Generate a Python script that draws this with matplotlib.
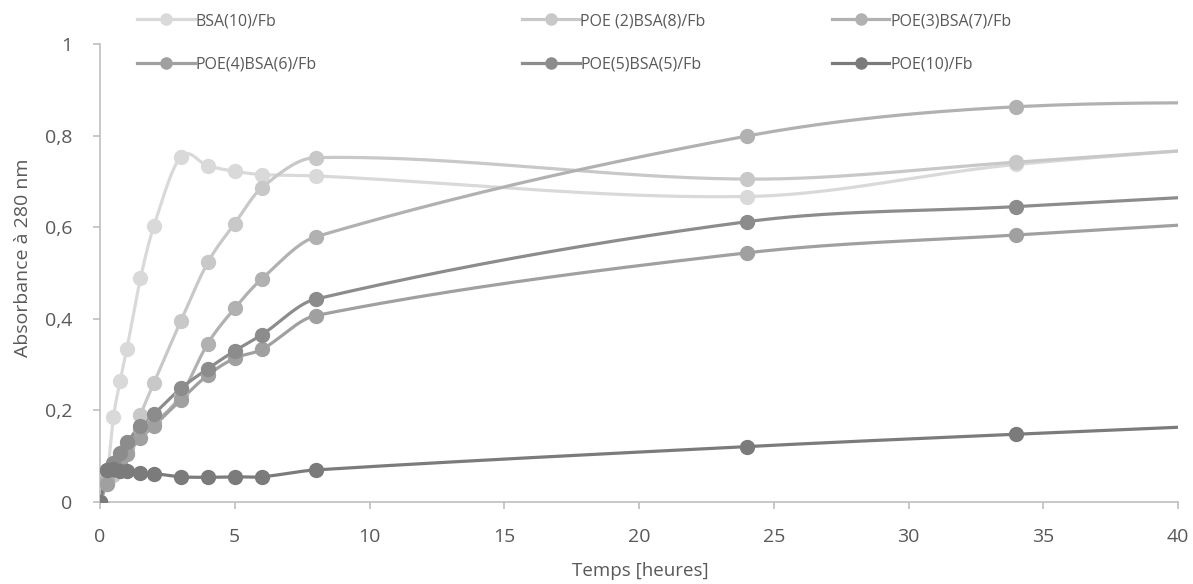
import numpy as np
import matplotlib
matplotlib.use("Agg")
import matplotlib.pyplot as plt
from matplotlib.lines import Line2D
from matplotlib import font_manager

# ---- data ----
hours = [0, 0.25, 0.5, 0.75, 1, 1.5, 2, 3, 4, 5, 6, 8, 24, 34, 48]
labels = ["BSA(10)/Fb", "POE (2)BSA(8)/Fb", "POE(3)BSA(7)/Fb",
          "POE(4)BSA(6)/Fb", "POE(5)BSA(5)/Fb", "POE(10)/Fb"]
bsa10 = [0, 0.05, 0.185, 0.265, 0.335, 0.488, 0.603, 0.754, 0.734, 0.722, 0.715, 0.712, 0.667, 0.737, 0.80]
poe2 = [0, 0.04, 0.06, 0.085, 0.11, 0.19, 0.26, 0.395, 0.523, 0.608, 0.686, 0.752, 0.705, 0.742, 0.80]
poe3 = [0, 0.05, 0.08, 0.10, 0.12, 0.16, 0.172, 0.233, 0.346, 0.423, 0.487, 0.579, 0.799, 0.863, 0.872]
poe4 = [0, 0.04, 0.07, 0.09, 0.105, 0.139, 0.166, 0.223, 0.277, 0.314, 0.333, 0.407, 0.544, 0.583, 0.632]
poe5 = [0, 0.07, 0.085, 0.106, 0.13, 0.166, 0.192, 0.248, 0.291, 0.33, 0.365, 0.443, 0.612, 0.645, 0.69]
poe10 = [0, 0.07, 0.072, 0.068, 0.068, 0.063, 0.062, 0.055, 0.054, 0.055, 0.055, 0.07, 0.121, 0.148, 0.183]
series = [bsa10, poe2, poe3, poe4, poe5, poe10]
colors = ["#D9D9D9", "#C8C8C8", "#B1B1B1", "#A0A0A0", "#8C8C8C", "#7B7B7B"]
y_ticks = [0, 0.2, 0.4, 0.6, 0.8, 1]
x_ticks = [0, 5, 10, 15, 20, 25, 30, 35, 40]


def smooth(x, y, n=40):
    """Smoothed line through the points (cubic Hermite, Catmull-Rom tangents)."""
    x = np.asarray(x, float)
    y = np.asarray(y, float)
    m = len(x)
    slopes = np.zeros(m)
    for i in range(m):
        if i == 0:
            slopes[i] = (y[1] - y[0]) / (x[1] - x[0])
        elif i == m - 1:
            slopes[i] = (y[-1] - y[-2]) / (x[-1] - x[-2])
        else:
            slopes[i] = (y[i + 1] - y[i - 1]) / (x[i + 1] - x[i - 1])
    xs, ys = [], []
    for i in range(m - 1):
        h = x[i + 1] - x[i]
        t = np.linspace(0, 1, n)
        if i > 0:
            t = t[1:]
        h00 = 2 * t ** 3 - 3 * t ** 2 + 1
        h10 = t ** 3 - 2 * t ** 2 + t
        h01 = -2 * t ** 3 + 3 * t ** 2
        h11 = t ** 3 - t ** 2
        xs.append(x[i] + h * t)
        ys.append(h00 * y[i] + h10 * h * slopes[i] + h01 * y[i + 1] + h11 * h * slopes[i + 1])
    return np.concatenate(xs), np.concatenate(ys)


plt.rcParams['font.family'] = ['Open Sans', 'DejaVu Sans']
names = {f.name for f in font_manager.fontManager.ttflist}
leg_family = 'Liberation Sans Narrow' if 'Liberation Sans Narrow' in names else 'Open Sans'

fig = plt.figure(figsize=(11.93, 5.84), dpi=100)
ax = fig.add_axes([100 / 1193, 1 - 502 / 584, 1078 / 1193, 458 / 584])

for ys, c in zip(series, colors):
    sx, sy = smooth(hours, ys)
    ax.plot(sx, sy, color=c, lw=2.3, solid_capstyle='round', zorder=2)
    ax.plot(hours, ys, linestyle='none', marker='o', markersize=10,
            markerfacecolor=c, markeredgecolor=c, zorder=3)

ax.set_xlim(0, 40)
ax.set_ylim(0, 1)
ax.set_xticks(x_ticks)
ax.set_xticklabels([str(v) for v in x_ticks])
ax.set_yticks(y_ticks)
ax.set_yticklabels([("%g" % v).replace(".", ",") for v in y_ticks])
for s in ["top", "right"]:
    ax.spines[s].set_visible(False)
for s in ["left", "bottom"]:
    ax.spines[s].set_color("#BFBFBF")
    ax.spines[s].set_linewidth(1.2)
ax.tick_params(axis='both', colors="#BFBFBF", labelcolor="#595959", labelsize=14,
               length=5, width=1.2)
ax.tick_params(axis='x', pad=14)
ax.tick_params(axis='y', pad=15)
ax.set_xlabel("Temps [heures]", fontsize=13.5, color="#595959")
ax.set_ylabel("Absorbance à 280 nm", fontsize=14, color="#595959")
ax.xaxis.set_label_coords((640 - 100) / 1078, (502 - 562) / 458)
ax.yaxis.set_label_coords((32 - 100) / 1078, (502 - 258) / 458)

# legend in three columns placed individually
col_x = [137, 522, 832]
for k in range(3):
    idx = [k, k + 3]
    handles = [Line2D([], [], color=colors[i], lw=2.3, marker='o', markersize=8,
                      markerfacecolor=colors[i], markeredgecolor=colors[i]) for i in idx]
    fig.legend(handles, [labels[i] for i in idx], loc='upper left',
               bbox_to_anchor=(col_x[k] / 1193, 1 - 13 / 584),
               frameon=False, handlelength=3.6, handletextpad=0.05,
               labelspacing=1.75, borderaxespad=0, borderpad=0,
               labelcolor="#595959",
               prop={'family': [leg_family, 'DejaVu Sans'], 'size': 11.5})

fig.savefig("out.png", dpi=100, facecolor="white")
